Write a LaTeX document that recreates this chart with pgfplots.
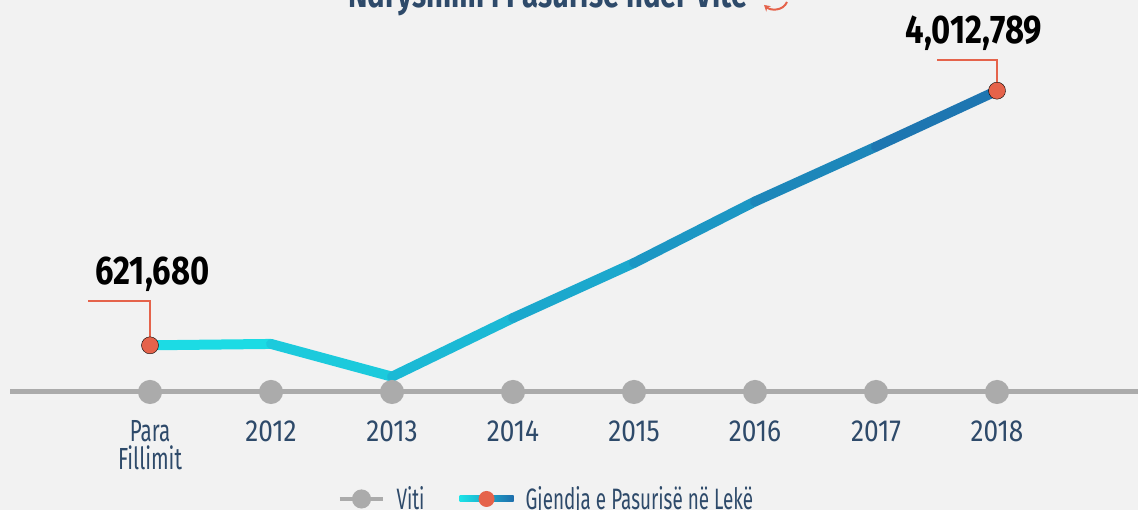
\documentclass[border=0pt]{standalone}
\usepackage{pgfplots}
\pgfplotsset{compat=1.18}
\usetikzlibrary{arrows.meta}
\usepackage{fontspec}
\setmainfont[FakeStretch=0.73]{Fira Sans}
\newfontfamily\tickfont[FakeStretch=0.86]{Fira Sans}
\newfontfamily\numfont[FakeStretch=0.82]{Fira Sans}
\newfontfamily\legfont[FakeStretch=0.675]{Fira Sans}
\newfontfamily\legtextfont[FakeStretch=0.64]{Fira Sans}
\newfontfamily\titlefont[FakeStretch=0.77]{Fira Sans}
\definecolor{bg}{HTML}{F2F2F2}
\definecolor{navy}{HTML}{2E4A6A}
\definecolor{grayc}{HTML}{ABABAB}
\definecolor{orng}{HTML}{E5634B}
\definecolor{cyanc}{RGB}{28,228,232}
\definecolor{bluec}{RGB}{30,110,172}
\pgfplotsset{colormap={wealth}{rgb255(0cm)=(28,228,232) rgb255(1cm)=(27,168,205) rgb255(2cm)=(30,110,172)}}
\begin{document}
\begin{tikzpicture}[x=1pt,y=1pt]
\useasboundingbox (0,0) rectangle (1138,510);
\fill[bg] (0,0) rectangle (1138,510);
\clip (0,0) rectangle (1138,510);
\node[anchor=base, font=\titlefont\fontsize{38}{40}\selectfont\bfseries, text=navy, inner sep=0pt] at (548,502) {Ndryshimi i Pasurisë ndër Vite};
\draw[orng, line width=2pt, -{Stealth[length=6pt,width=7pt]}] (787,508) .. controls (783,499) and (771,499) .. (764,505);
\begin{axis}[
  at={(0,0)}, anchor=south west, scale only axis,
  width=1144.3pt, height=510pt,
  xmin=-1.2397, xmax=8.2173, ymin=-1571524, ymax=5220656,
  axis x line=middle, axis y line=none,
  x axis line style={grayc, line width=5pt, -, shorten <=10pt},
  xtick={0,...,7},
  xticklabels={{\legfont Para\\\legfont Fillimit},2012,2013,2014,2015,2016,2017,2018},
  ytick=\empty,
  major tick length=0pt,
  xticklabel style={anchor=north, inner sep=0pt, yshift=-28.7pt, align=center, text=navy,
     font=\tickfont\fontsize{30.5}{27.5}\selectfont},
  clip=false,
  legend columns=2,
  legend style={at={(axis description cs:0.4769,0.0216)}, anchor=center, draw=none, fill=none,
     inner sep=0pt, column sep=0pt,
     nodes={inner sep=0pt, text=navy, font=\legtextfont\fontsize{29.5}{30}\selectfont},
     /tikz/every odd column/.append style={column sep=12pt},
     /tikz/every even column/.append style={column sep=35pt}},
]
\addplot[grayc, line width=5pt, mark=*, mark size=9.5pt, mark options={draw=none, fill=grayc},
  legend image code/.code={\draw[grayc, line width=3.3pt] (0pt,0pt) -- (43pt,0pt); \fill[grayc] (21.6pt,0pt) circle (7pt);}]
  coordinates {(0,0) (1,0) (2,0) (3,0) (4,0) (5,0) (6,0) (7,0)};
\addlegendentry{Viti}
\addplot[mesh, colormap name=wealth, point meta=x, shader=flat, line width=10pt, line cap=round, line join=round, forget plot]
  coordinates {(0,621680) (1,640000) (2,204000) (3,985500) (4,1718000) (5,2537000) (6,3267000) (7,4012789)};
\addlegendimage{legend image code/.code={\shade[draw=none, left color=cyanc, right color=bluec] (0pt,-3pt) rectangle (54pt,3pt); \fill[orng, draw=none] (27pt,0pt) circle (8pt);}}
\addlegendentry{Gjendja e Pasurisë në Lekë}
\draw[orng, line width=2pt] (axis cs:-0.512,1211938) -- (axis cs:0,1211938) -- (axis cs:0,621680);
\draw[orng, line width=2pt] (axis cs:6.507,4421576) -- (axis cs:7,4421576) -- (axis cs:7,4012789);
\addplot[only marks, mark=*, mark size=8.5pt, mark options={draw=none, fill=orng}, forget plot]
  coordinates {(0,621680) (7,4012789)};
\node[anchor=base, inner sep=0pt, font=\numfont\fontsize{40}{42}\selectfont\bfseries] at (axis cs:0.02,1434300) {621,680};
\node[anchor=base, inner sep=0pt, font=\numfont\fontsize{40}{42}\selectfont\bfseries] at (axis cs:6.81,4643987) {4,012,789};
\end{axis}
\end{tikzpicture}
\end{document}
